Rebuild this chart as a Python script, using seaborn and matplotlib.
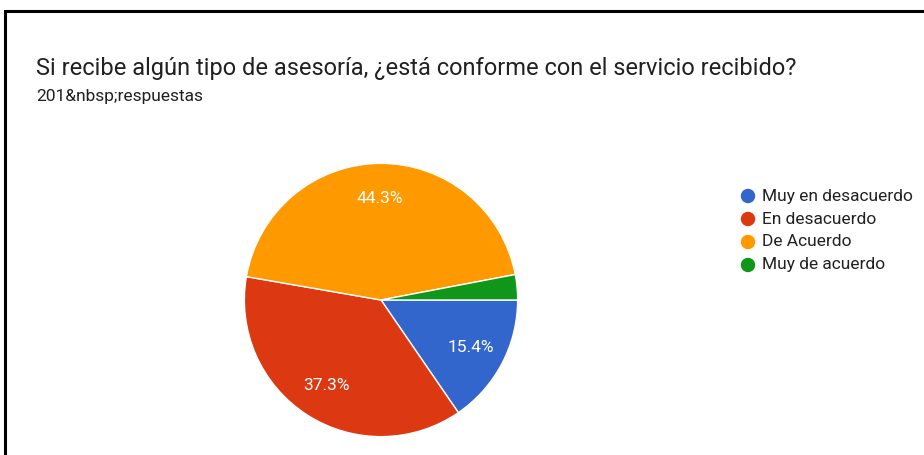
import matplotlib
matplotlib.use("Agg")
import matplotlib.pyplot as plt
from matplotlib.patches import Rectangle, Ellipse
import seaborn as sns

# Survey answers (201 responses)
categories = ["Muy en desacuerdo", "En desacuerdo", "De Acuerdo", "Muy de acuerdo"]
counts = [31, 75, 89, 6]
colors = ["#3366cc", "#dc3912", "#ff9900", "#109618"]

title = "Si recibe algún tipo de asesoría, ¿está conforme con el servicio recibido?"
subtitle = "201&nbsp;respuestas"

sns.set_theme(style="white")
plt.rcParams["font.family"] = ["Roboto", "DejaVu Sans"]

W, H = 924, 455
fig = plt.figure(figsize=(W / 100, H / 100), dpi=100)
fig.patch.set_facecolor("white")

# card frame (right and bottom edges run past the canvas)
fig.patches.append(Rectangle((5 / W, -0.1), 1.1, 1.1 - 11 / H,
                             transform=fig.transFigure, fill=False,
                             edgecolor="black", linewidth=2.2))

fig.text(36 / W, 1 - 68 / H, title, fontsize=17, color="#212121", va="center")
fig.text(36 / W, 1 - 97 / H, subtitle, fontsize=12.5, color="#212121", va="center")

cx, cy, r = 381, 300, 138
ax = fig.add_axes([(cx - r) / W, (H - cy - r) / H, 2 * r / W, 2 * r / H])

def fmt(p):
    return f"{p:.1f}%" if p >= 5 else ""

wedges, texts, autotexts = ax.pie(
    counts, colors=colors, startangle=0, counterclock=False,
    autopct=fmt, pctdistance=0.74,
    wedgeprops=dict(edgecolor="white", linewidth=1.0),
    textprops=dict(color="white", fontsize=12.5),
)
ax.set_xlim(-1.01, 1.01)
ax.set_ylim(-1.01, 1.01)
ax.set_aspect("auto")
ax.axis("off")

# legend
lx, ly0, dy = 748, 196, 23
for i, (lab, col) in enumerate(zip(categories, colors)):
    y = ly0 + i * dy
    fig.patches.append(Ellipse((lx / W, 1 - y / H), 13 / W, 13 / H,
                               transform=fig.transFigure, color=col))
    fig.text((lx + 14) / W, 1 - y / H, lab, fontsize=12.5, color="#222222", va="center")

fig.savefig("out.png", dpi=100)
